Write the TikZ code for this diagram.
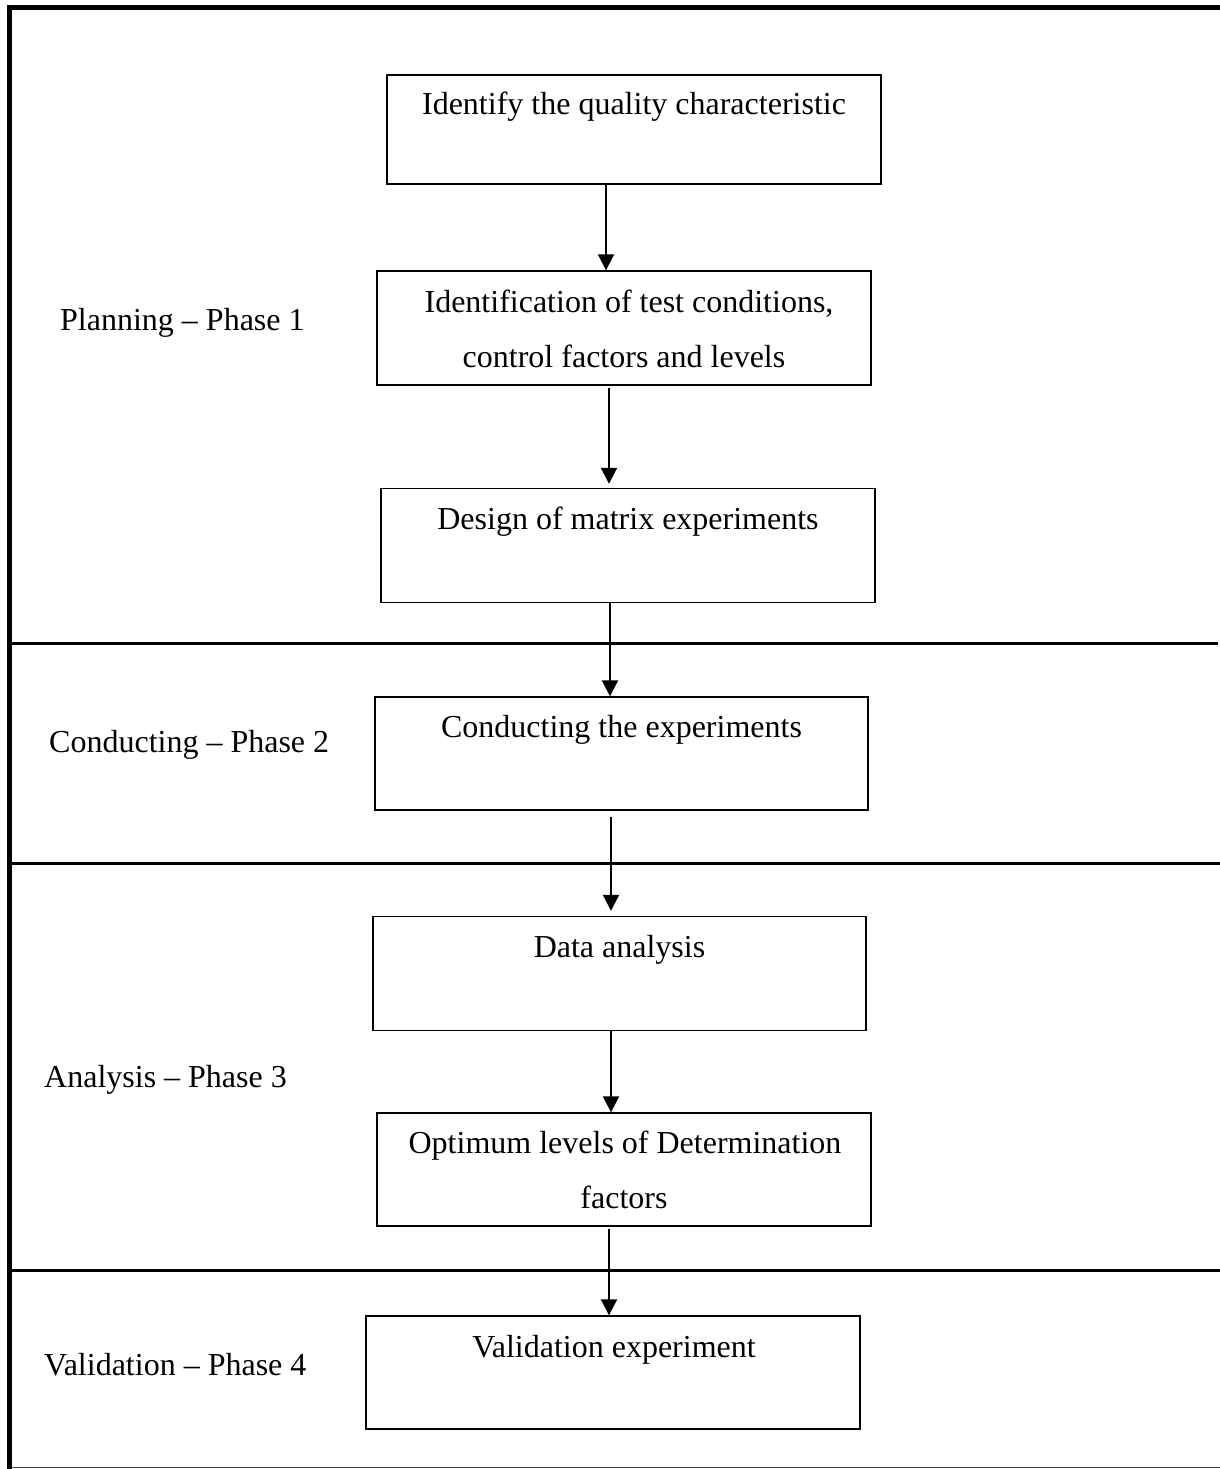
\documentclass[tikz,border=0pt]{standalone}
\usepackage{fontspec}
\setmainfont{Liberation Serif}
\usetikzlibrary{arrows.meta}
\begin{document}
\begin{tikzpicture}[x=1pt,y=-1pt,
  box/.style={draw=black,line width=1.4pt,rectangle,inner sep=0pt},
  txt/.style={anchor=base,inner sep=0pt,font=\fontsize{32}{38}\selectfont},
  arr/.style={line width=2pt,-{Triangle[length=16pt,width=16pt]}},
  frame/.style={line width=5pt},
  sep/.style={line width=3pt}]
\useasboundingbox (0,0) rectangle (1220,1469);
\fill[white] (0,0) rectangle (1220,1469);

% outer frame (top and left heavy, bottom thin) and phase separators
\coordinate (tl) at (7,7.5);
\coordinate (tr) at (1220,7.5);
\coordinate (lt) at (9.8,5);
\coordinate (lb) at (9.8,1469);
\coordinate (bl) at (12,1467.5);
\coordinate (br) at (1220,1467.5);
\draw[frame] (tl) -- (tr);
\draw[frame] (lt) -- (lb);
\draw[line width=1.6pt,black!75] (bl) -- (br);
\coordinate (s1l) at (12,643.5);  \coordinate (s1r) at (1218,643.5);
\coordinate (s2l) at (12,863.5);  \coordinate (s2r) at (1220,863.5);
\coordinate (s3l) at (12,1270);   \coordinate (s3r) at (1220,1270);
\draw[sep] (s1l) -- (s1r);
\draw[sep] (s2l) -- (s2r);
\draw[sep] (s3l) -- (s3r);

% process boxes
\node[box,minimum width=494pt,minimum height=109pt] (b1) at (634,129.5) {};
\node[box,minimum width=494pt,minimum height=114pt] (b2) at (624,328) {};
\node[box,minimum width=494pt,minimum height=114pt] (b3) at (628,545.5) {};
\node[box,minimum width=493pt,minimum height=113pt] (b4) at (621.5,753.5) {};
\node[box,minimum width=493pt,minimum height=114pt] (b5) at (619.5,973.5) {};
\node[box,minimum width=494pt,minimum height=113pt] (b6) at (624,1169.5) {};
\node[box,minimum width=494pt,minimum height=113pt] (b7) at (613,1372.5) {};

% box texts
\node[txt] (t1)  at (634,115)   {Identify the quality characteristic};
\node[txt] (t2a) at (629,312)   {Identification of test conditions,};
\node[txt] (t2b) at (624,367)   {control factors and levels};
\node[txt] (t3)  at (628,529)   {Design of matrix experiments};
\node[txt] (t4)  at (621.5,737) {Conducting the experiments};
\node[txt] (t5)  at (619.5,957) {Data analysis};
\node[txt] (t6a) at (625,1153)  {Optimum levels of Determination};
\node[txt] (t6b) at (624,1208)  {factors};
\node[txt] (t7)  at (614,1357)  {Validation experiment};

% phase labels
\node[txt,anchor=base west] (p1) at (60,330)  {Planning – Phase 1};
\node[txt,anchor=base west] (p2) at (49,752)  {Conducting – Phase 2};
\node[txt,anchor=base west] (p3) at (44,1087) {Analysis – Phase 3};
\node[txt,anchor=base west] (p4) at (44,1375) {Validation – Phase 4};

% arrow columns
\coordinate (x1) at (606,0);
\coordinate (x2) at (609,0);
\coordinate (x3) at (610,0);
\coordinate (x4) at (611,0);
\coordinate (x5) at (611,0);
\coordinate (x6) at (609,0);

% connectors
\draw[arr] (b1.south -| x1) -- (b2.north -| x1);
\draw[arr,shorten <=2pt,shorten >=4pt] (b2.south -| x2) -- (b3.north -| x2);
\draw[arr] (b3.south -| x3) -- (b4.north -| x3);
\draw[arr,shorten <=6pt,shorten >=5pt] (b4.south -| x4) -- (b5.north -| x4);
\draw[arr] (b5.south -| x5) -- (b6.north -| x5);
\draw[arr,shorten <=2pt] (b6.south -| x6) -- (b7.north -| x6);
\end{tikzpicture}
\end{document}
